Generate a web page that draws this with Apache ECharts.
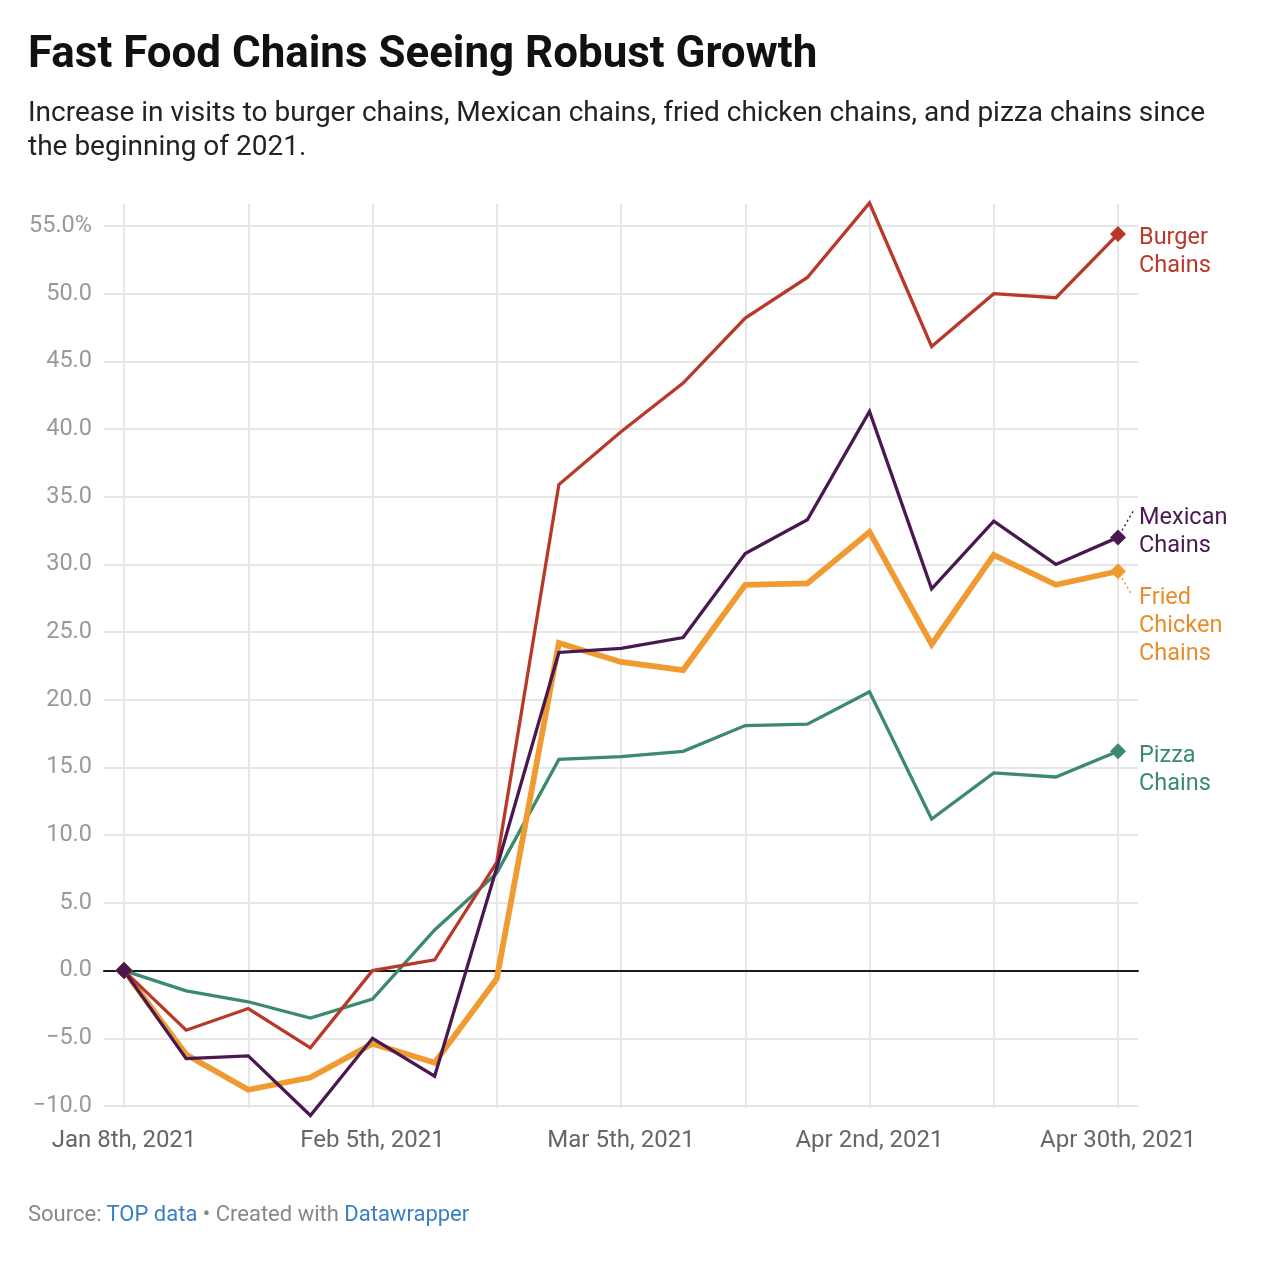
<!DOCTYPE html>
<html>
<head>
<meta charset="utf-8">
<script src="https://cdn.jsdelivr.net/npm/echarts@6/dist/echarts.min.js"></script>
<style>
  html, body { margin: 0; padding: 0; background: #fff; }
  body { width: 1274px; height: 1272px; position: relative; font-family: Roboto, sans-serif; }
  #title { position: absolute; left: 28px; top: 26px; font-size: 43.9px; line-height: 52px; font-weight: 700; color: #111; white-space: nowrap; }
  #sub { position: absolute; left: 28px; top: 95px; width: 1212px; font-size: 28px; line-height: 34px; color: #222; }
  #foot { position: absolute; left: 28px; top: 1201px; font-size: 22px; color: #888; white-space: nowrap; }
  #foot span { color: #3a7fc4; }
  #chart { position: absolute; left: 0; top: 0; width: 1274px; height: 1272px; }
</style>
</head>
<body>
<div id="chart"></div>
<div id="title">Fast Food Chains Seeing Robust Growth</div>
<div id="sub">Increase in visits to burger chains, Mexican chains, fried chicken chains, and pizza chains since the beginning of 2021.</div>
<div id="foot">Source: <span>TOP data</span> • Created with <span>Datawrapper</span></div>
<script>
const categories = [
  "Jan 8th, 2021", "Jan 15th, 2021", "Jan 22nd, 2021", "Jan 29th, 2021",
  "Feb 5th, 2021", "Feb 12th, 2021", "Feb 19th, 2021", "Feb 26th, 2021",
  "Mar 5th, 2021", "Mar 12th, 2021", "Mar 19th, 2021", "Mar 26th, 2021",
  "Apr 2nd, 2021", "Apr 9th, 2021", "Apr 16th, 2021", "Apr 23rd, 2021",
  "Apr 30th, 2021"
];
const burger  = [0, -4.4, -2.8, -5.7, 0, 0.8, 8.0, 35.9, 39.8, 43.4, 48.2, 51.2, 56.7, 46.1, 50.0, 49.7, 54.4];
const mexican = [0, -6.5, -6.3, -10.7, -5.0, -7.8, 7.6, 23.5, 23.8, 24.6, 30.8, 33.3, 41.3, 28.2, 33.2, 30.0, 32.0];
const fried   = [0, -6.2, -8.8, -7.9, -5.4, -6.8, -0.6, 24.2, 22.8, 22.2, 28.5, 28.6, 32.4, 24.1, 30.7, 28.5, 29.5];
const pizza   = [0, -1.5, -2.3, -3.5, -2.1, 3.0, 7.2, 15.6, 15.8, 16.2, 18.1, 18.2, 20.6, 11.2, 14.6, 14.3, 16.2];
const yTicks = { min: -10, max: 55, step: 5 };
const xLabelStep = 4;
const xGridStep = 2;

// dy: vertical offset of the end label (px); guide: dotted connector from the end point, in px [x1,y1,x2,y2]
const seriesDefs = [
  { name: "Pizza\nChains", data: pizza, color: "#3b8a6f", text: "#3b8a6f", width: 3.3, dy: 19, guide: null },
  { name: "Fried\nChicken\nChains", data: fried, color: "#f09a32", text: "#e88c2e", width: 5.8, dy: 55, guide: [4, 7, 14, 24] },
  { name: "Burger\nChains", data: burger, color: "#b8392a", text: "#b8392a", width: 3.3, dy: 18, guide: null },
  { name: "Mexican\nChains", data: mexican, color: "#4a1850", text: "#4a1850", width: 3.3, dy: -5, guide: [4, -7, 15, -26] }
];

const chart = echarts.init(document.getElementById('chart'));
const last = categories.length - 1;
const font = 'Roboto';

const option = {
  animation: false,
  textStyle: { fontFamily: font },
  grid: [
    { left: 104, right: 136, top: 226, bottom: 166 },
    { left: 124, right: 156, top: 204, bottom: 164 },
    { left: 124, right: 156, top: 226, bottom: 166 }
  ],
  xAxis: [
    { gridIndex: 0, type: 'value', min: 0, max: 1,
      axisLine: { show: true, onZero: true, lineStyle: { color: '#1a1a1a', width: 2 } },
      axisTick: { show: false }, axisLabel: { show: false }, splitLine: { show: false } },
    { gridIndex: 1, type: 'value', min: 0, max: last, interval: xGridStep,
      axisLine: { show: false }, axisTick: { show: false }, axisLabel: { show: false },
      splitLine: { show: true, lineStyle: { color: '#e6e6e6', width: 2 } } },
    { gridIndex: 2, type: 'value', min: 0, max: last, interval: xLabelStep,
      axisLine: { show: false }, axisTick: { show: false }, splitLine: { show: false },
      axisLabel: { margin: 23, fontSize: 24, color: '#666', fontFamily: font,
        formatter: (v) => categories[v] } }
  ],
  yAxis: [
    { gridIndex: 0, type: 'value', min: yTicks.min, max: yTicks.max, interval: yTicks.step,
      axisLine: { show: false }, axisTick: { show: false },
      splitLine: { show: true, lineStyle: { color: '#e6e6e6', width: 2 } },
      axisLabel: { margin: 12, fontSize: 23.5, color: '#999', fontFamily: font,
        formatter: (v) => {
          const s = Math.abs(v).toFixed(1);
          if (v === yTicks.max) return s + '%';
          return v < 0 ? '\u2212' + s : s;
        } } },
    { gridIndex: 1, type: 'value', min: 0, max: 1, show: false },
    { gridIndex: 2, type: 'value', min: yTicks.min, max: yTicks.max, show: false }
  ],
  series: seriesDefs.map((d) => ({
    type: 'line',
    name: d.name,
    xAxisIndex: 2, yAxisIndex: 2,
    clip: false,
    showAllSymbol: true,
    symbol: 'none',
    data: d.data.map((v, i) => (i === 0 || i === last)
      ? { value: [i, v], symbol: 'diamond', symbolSize: i === 0 ? 17 : 16 } : [i, v]),
    lineStyle: { color: d.color, width: d.width, join: 'miter' },
    itemStyle: { color: d.color },
    emphasis: { disabled: true },
    endLabel: {
      show: true, formatter: d.name, color: d.text, fontSize: 23.5, lineHeight: 28,
      fontFamily: font, distance: 0, offset: [21, d.dy], align: 'left'
    }
  }))
};
chart.setOption(option);

// dotted guide lines from the end points to the displaced labels
const guides = [];
seriesDefs.forEach((d, si) => {
  if (!d.guide) return;
  const p = chart.convertToPixel({ seriesIndex: si }, [last, d.data[last]]);
  guides.push({
    type: 'line', silent: true, z: 10,
    shape: { x1: p[0] + d.guide[0], y1: p[1] + d.guide[1], x2: p[0] + d.guide[2], y2: p[1] + d.guide[3] },
    style: { stroke: d.color, lineWidth: 1.5, lineDash: [2, 3] }
  });
});
chart.setOption({ graphic: guides });
</script>
</body>
</html>
